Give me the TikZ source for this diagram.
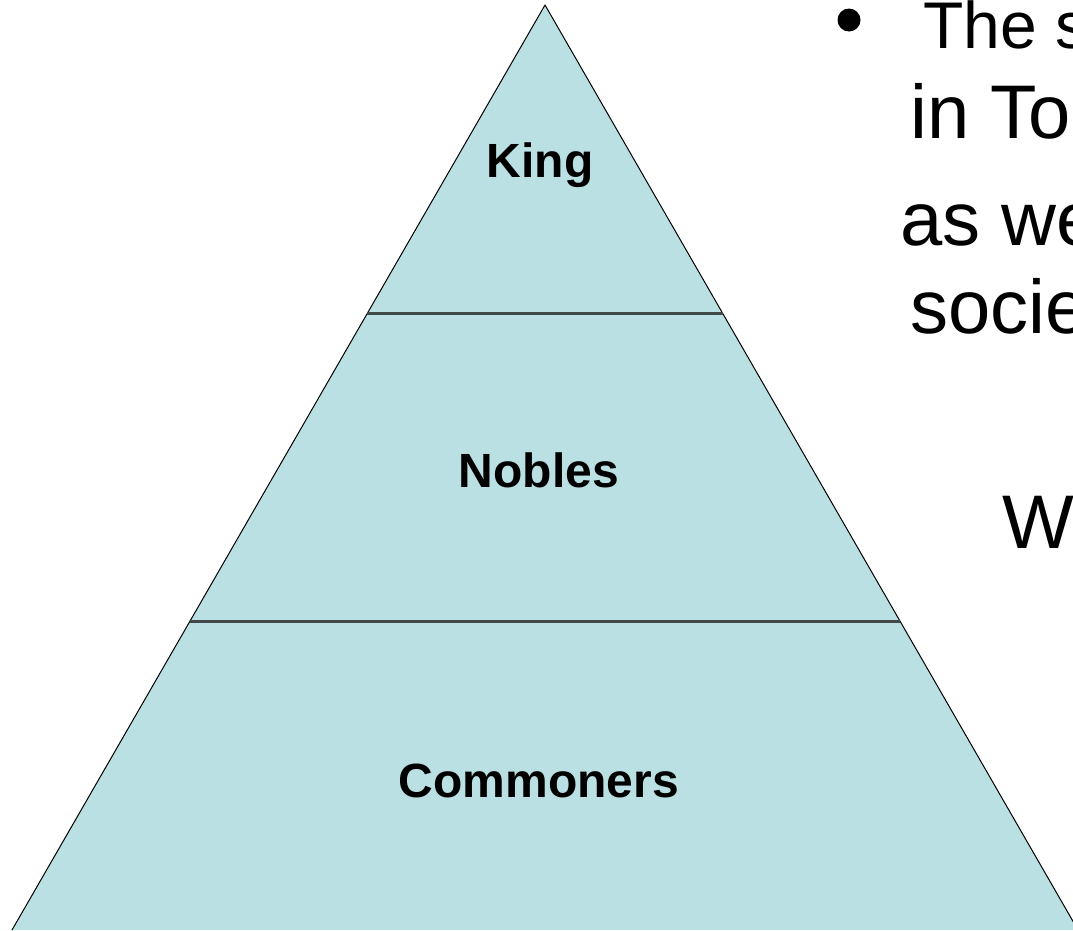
\documentclass[tikz,border=0pt]{standalone}
\usepackage{fontspec}
\setmainfont{Liberation Sans}
\usetikzlibrary{calc}
\definecolor{tierfill}{RGB}{187,224,227}
\definecolor{tierline}{RGB}{64,72,74}
\begin{document}
\begin{tikzpicture}[x=1pt,y=-1pt,line join=round,line cap=round,
	tier/.style={font=\bfseries\fontsize{48}{50}\selectfont,anchor=base,inner sep=0},
	slide/.style={font=\fontsize{76}{80}\selectfont,anchor=base west,inner sep=0}]
	\useasboundingbox (0,0) rectangle (1073,930);
	% pyramid
	\coordinate (top) at (545,5);
	\coordinate (bl) at (12,930);
	\coordinate (br) at (1078,930);
	\fill[tierfill] (top)--(bl)--(br)--cycle;
	\draw[line width=1pt] (bl)--(top)--(br);
	\coordinate (l1) at ($(top)!1/3!(bl)$);
	\coordinate (r1) at ($(top)!1/3!(br)$);
	\coordinate (l2) at ($(top)!2/3!(bl)$);
	\coordinate (r2) at ($(top)!2/3!(br)$);
	\draw[tierline,line width=3pt,line cap=butt] (l1)--(r1) (l2)--(r2);
	\path (540,177)node[tier](king){King}
	(539,487)node[tier](nobles){Nobles}
	(539,797)node[tier](commoners){Commoners};
	% text beside the pyramid
	\fill (849,20) circle (11.5);
	\path (923,48)node[slide,font=\fontsize{66}{70}\selectfont](t1){The s}
	(910,138)node[slide](t2){in To}
	(900,245)node[slide](t3){as we}
	(910,333)node[slide](t4){socie}
	(1002,548)node[slide](t5){W};
\end{tikzpicture}
\end{document}
